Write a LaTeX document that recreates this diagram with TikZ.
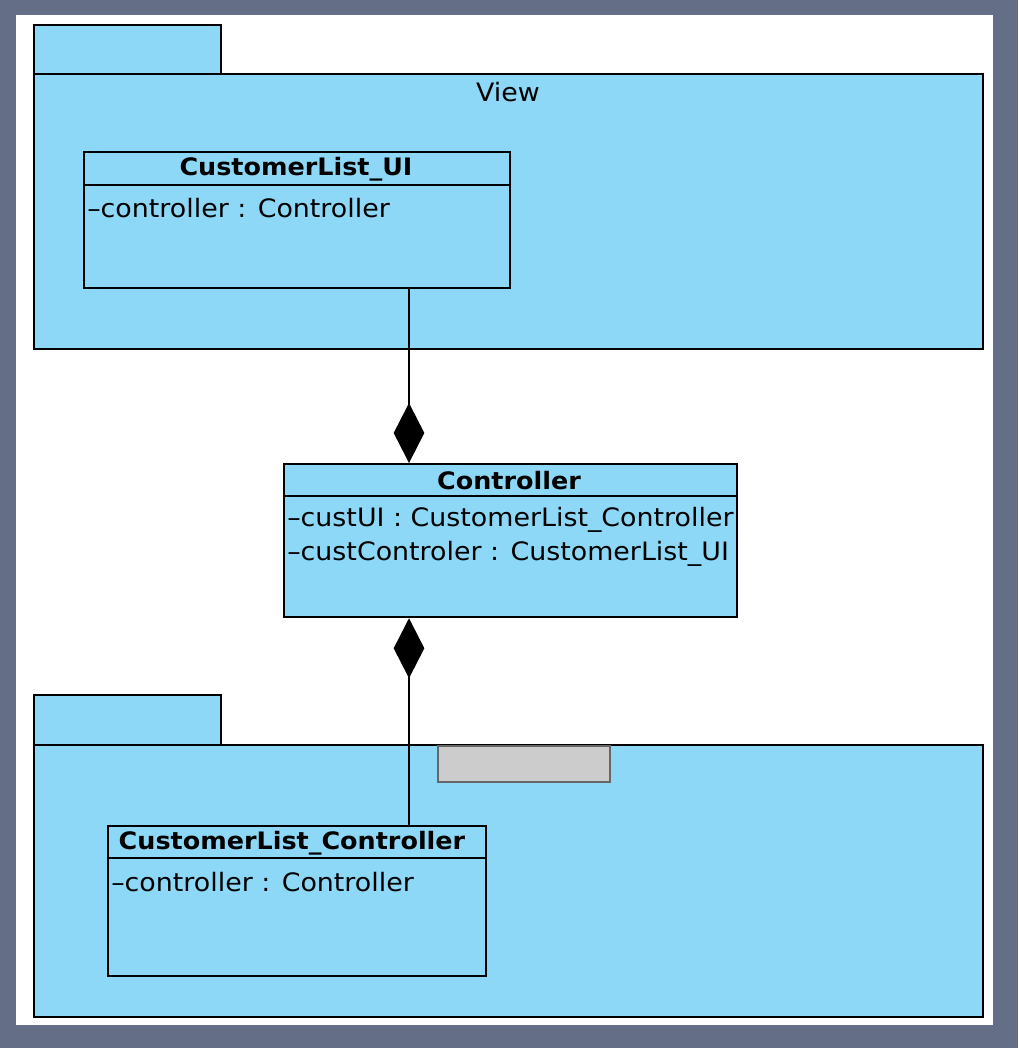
\documentclass[tikz,border=0pt]{standalone}
\usepackage{fontspec}
\setmainfont[FakeStretch=1.06]{DejaVu Sans}
\usetikzlibrary{arrows.meta}
\definecolor{umlblue}{RGB}{142,216,247}
\definecolor{frame}{RGB}{100,110,135}
\definecolor{tagfill}{RGB}{204,204,204}
\definecolor{tagline}{RGB}{102,102,102}
\begin{document}
\begin{tikzpicture}[x=0.75pt,y=-0.75pt,
  box/.style={draw=black,fill=umlblue,line width=1.7pt,inner sep=0pt,anchor=north west},
  sep/.style={line width=1.7pt},
  txt/.style={inner sep=0pt,font=\fontsize{19}{22}\selectfont},
  ttl/.style={txt,font=\fontsize{18}{21}\selectfont\bfseries},
  comp/.style={line width=1.7pt,-{Diamond[length=45pt,width=23pt]}}]
\useasboundingbox (0,0) rectangle (1018,1048);
\fill[frame] (0,0) rectangle (1018,1048);
\fill[white] (16,15) rectangle (993,1025);
% top package
\node[box,minimum width=187*0.75pt,minimum height=49*0.75pt] (vtab) at (33,24) {};
\node[box,minimum width=949*0.75pt,minimum height=275*0.75pt] (view) at (33,73) {};
\node[txt] (viewlbl) at (508,92) {View};
% CustomerList_UI
\node[box,minimum width=426*0.75pt,minimum height=136*0.75pt] (ui) at (83,151) {};
\draw[sep] (ui.west |- 0,185) -- (ui.east |- 0,185);
\node[ttl] (uit) at (296,169) {CustomerList\_UI};
\node[txt,anchor=west] (uia) at (87,208) {–controller : Controller};
% Controller
\node[box,minimum width=453*0.75pt,minimum height=153*0.75pt] (ctrl) at (283,463) {};
\draw[sep] (ctrl.west |- 0,496) -- (ctrl.east |- 0,496);
\node[ttl] (ctrlt) at (509,481) {Controller};
\node[txt,anchor=west] (ca1) at (287,520) {–custUI : CustomerList\_Controller};
\node[txt,anchor=west] (ca2) at (287,554) {–custControler : CustomerList\_UI};
% bottom package
\node[box,minimum width=187*0.75pt,minimum height=50*0.75pt] (btab) at (33,694) {};
\node[box,minimum width=949*0.75pt,minimum height=272*0.75pt] (bpkg) at (33,744) {};
\node[draw=tagline,fill=tagfill,line width=1.5pt,inner sep=0pt,anchor=north west,minimum width=172*0.75pt,minimum height=36*0.75pt] (btag) at (437,745) {};
% CustomerList_Controller
\node[box,minimum width=378*0.75pt,minimum height=150*0.75pt] (cc) at (107,825) {};
\draw[sep] (cc.west |- 0,858) -- (cc.east |- 0,858);
\node[ttl] (cct) at (292,843) {CustomerList\_Controller};
\node[txt,anchor=west] (cca) at (111,882) {–controller : Controller};
% connectors
\coordinate (lx) at (409,0);
\draw[comp] (ui.south -| lx) -- (ctrl.north -| lx);
\draw[comp] (cc.north -| lx) -- (ctrl.south -| lx);
\end{tikzpicture}
\end{document}
